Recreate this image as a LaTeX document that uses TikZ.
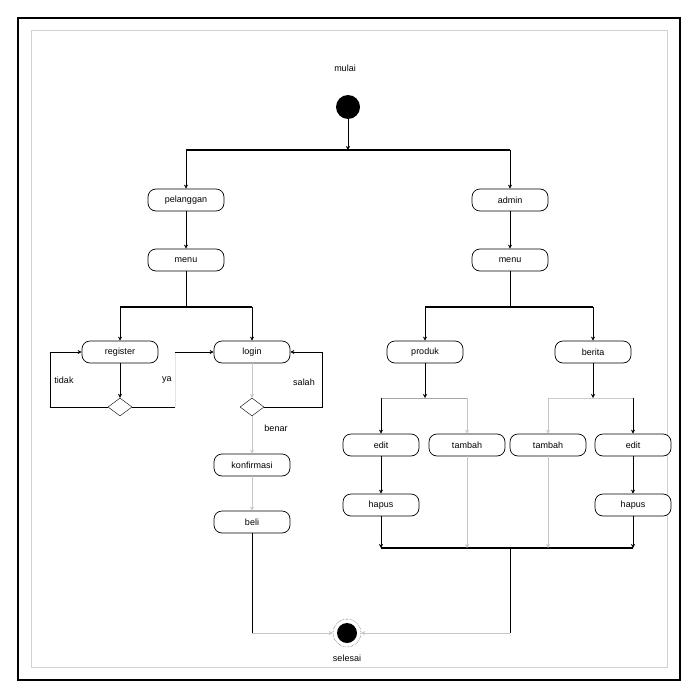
\documentclass[tikz,border=0pt]{standalone}
\usepackage{fontspec}
\setmainfont{Liberation Sans}
\usetikzlibrary{arrows.meta}
\usetikzlibrary{positioning,shapes.geometric}
\tikzset{
    act/.style={
        draw,
        line width=0.7pt,
        rounded corners=8pt,
        fill=white,
        minimum width=76pt,
        minimum height=22pt,
        inner sep=2pt,
        font=\fontsize{9}{10}\selectfont
    },
    choice/.style={
        draw,
        diamond,
        fill=white,
        minimum width=24pt,
        minimum height=18pt,
        inner sep=0pt
    },
    flow/.style={
        draw,
        -{Stealth[length=4pt, width=4pt]},
        thin
    },
    faint/.style={flow, gray!45},
    bar/.style={line width=1.8pt},
    lbl/.style={font=\fontsize{9}{10}\selectfont}
}

\begin{document}
\begin{tikzpicture}[x=1pt, y=-1pt]
    \useasboundingbox (0,0) rectangle (695,698);
    \draw[line width=2.5pt] (18,18) rectangle (680,680);
    \draw[gray!35, line width=1pt] (31,31) rectangle (667,667);

    % Start
    \node[lbl] (mulai) at (345,68) {mulai};
    \node[circle, fill=black, minimum size=24pt, inner sep=0pt] (start) at (348,107) {};
    \coordinate (topL) at (186,150);
    \coordinate (topR) at (510,150);
    \draw[flow] (start) -- (start |- topL);
    \draw[bar] (topL) -- (topR);

    % Actors
    \node[act] (plg) at (186,200) {pelanggan};
    \node[act] (adm) at (510,200) {admin};
    \node[act] (menuP) at (186,260) {menu};
    \node[act] (menuA) at (510,260) {menu};
    \draw[flow] (topL) -- (plg);
    \draw[flow] (topR) -- (adm);
    \draw[flow] (plg) -- (menuP);
    \draw[flow] (adm) -- (menuA);

    % Pelanggan side
    \coordinate (pfL) at (120,307);
    \coordinate (pfR) at (252,307);
    \draw (menuP) -- (menuP |- pfL);
    \draw[bar] (pfL) -- (pfR);
    \node[act] (reg) at (120,352) {register};
    \node[act] (log) at (252,352) {login};
    \draw[flow] (pfL) -- (reg);
    \draw[flow] (pfR) -- (log);
    \node[choice] (cekReg) at (120,407) {};
    \node[choice] (cekLog) at (252,407) {};
    \draw[flow] (reg) -- (cekReg);
    \draw[faint] (log) -- (cekLog);
    \draw[flow] (cekReg.west) -- (50,407) |- (reg.west);
    \node[lbl] (tidak) at (64,380) {tidak};
    \coordinate (yaBend) at (175,407);
    \coordinate (yaTop) at (175,352);
    \draw (cekReg.east) -- (yaBend);
    \draw[gray!20] (yaBend) -- (yaTop);
    \draw[flow] (yaTop) -- (log.west);
    \node[lbl] (ya) at (167,380) {ya};
    \draw[flow] (cekLog.east) -- (322,407) |- (log.east);
    \node[lbl] (salah) at (304,382) {salah};
    \node[lbl] (benar) at (276,428) {benar};
    \node[act] (konf) at (252,465) {konfirmasi};
    \node[act] (beli) at (252,522) {beli};
    \draw[faint] (cekLog) -- (konf);
    \draw[faint] (konf) -- (beli);

    % Admin side
    \coordinate (afL) at (425,307);
    \coordinate (afR) at (593,307);
    \draw (menuA) -- (menuA |- afL);
    \draw[bar] (afL) -- (afR);
    \node[act] (prd) at (425,352) {produk};
    \node[act] (brt) at (593,352) {berita};
    \draw[flow] (afL) -- (prd);
    \draw[flow] (afR) -- (brt);
    \coordinate (prdL) at (381,398);
    \coordinate (prdR) at (467,398);
    \coordinate (brtL) at (548,398);
    \coordinate (brtR) at (633,398);
    \draw[flow] (prd) -- (prd |- prdL);
    \draw[flow] (brt) -- (brt |- brtL);
    \draw[gray!70] (prdL) -- (prdR);
    \draw[gray!40] (brtL) -- (brtR);
    \node[act] (editP) at (381,445) {edit};
    \node[act] (tbhP) at (467,445) {tambah};
    \node[act] (tbhB) at (548,445) {tambah};
    \node[act] (editB) at (633,445) {edit};
    \draw[flow] (prdL) -- (editP);
    \draw[faint] (prdR) -- (tbhP);
    \draw[faint] (brtL) -- (tbhB);
    \draw[flow] (brtR) -- (editB);
    \node[act] (hpsP) at (381,505) {hapus};
    \node[act] (hpsB) at (633,505) {hapus};
    \draw[flow] (editP) -- (hpsP);
    \draw[flow] (editB) -- (hpsB);
    \coordinate (jnL) at (381,548);
    \coordinate (jnR) at (633,548);
    \coordinate (jnM) at (510,548);
    \draw[bar] (jnL) -- (jnR);
    \draw[flow] (hpsP) -- (jnL);
    \draw[faint] (tbhP) -- (tbhP |- jnL);
    \draw[faint] (tbhB) -- (tbhB |- jnL);
    \draw[flow] (hpsB) -- (jnR);

    % End
    \node[circle, draw, densely dotted, minimum size=28pt, inner sep=0pt] (end) at (347,633) {};
    \fill (end) circle (10pt);
    \node[lbl] (selesai) at (347,658) {selesai};
    \coordinate (beliDown) at (252,633);
    \coordinate (jnDown) at (510,633);
    \draw (beli) -- (beliDown);
    \draw[faint] (beliDown) -- (end.west);
    \draw (jnM) -- (jnDown);
    \draw[faint] (jnDown) -- (end.east);
\end{tikzpicture}
\end{document}
